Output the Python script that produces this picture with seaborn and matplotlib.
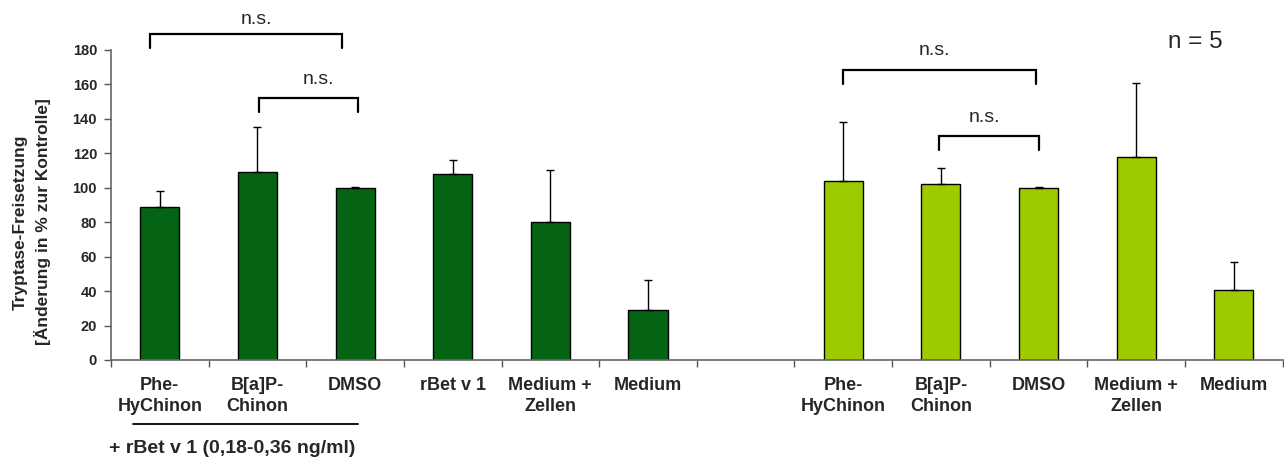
import numpy as np
import pandas as pd
import matplotlib
matplotlib.use("Agg")
import matplotlib.pyplot as plt
import matplotlib.transforms as mtransforms
import seaborn as sns

# Data: tryptase release, % change relative to control (mean and SD), n = 5
dark_labels = ["Phe-\nHyChinon", "B[a]P-\nChinon", "DMSO", "rBet v 1", "Medium +\nZellen", "Medium"]
dark_means = [89, 109, 100, 108, 80, 29]
dark_sd = [9, 26.5, 0.3, 8, 30.5, 17.5]

light_labels = ["Phe-\nHyChinon", "B[a]P-\nChinon", "DMSO", "Medium +\nZellen", "Medium"]
light_means = [104, 102, 100, 118, 40.5]
light_sd = [34, 9.7, 0.3, 42.6, 16.4]

yticks = list(range(0, 181, 20))
ylabel_lines = ["Tryptase-Freisetzung", "[Änderung in % zur Kontrolle]"]

dark_color = "#046414"
light_color = "#9ECB00"

sns.set_theme(style="white")
plt.rcParams["font.family"] = ["Liberation Sans", "DejaVu Sans"]

# Unique slot keys: dark group, one empty slot, light group
dark_keys = [f"a{i}" for i in range(len(dark_labels))]
light_keys = [f"b{i}" for i in range(len(light_labels))]
order = dark_keys + ["gap"] + light_keys
tick_text = dark_labels + [""] + light_labels

df = pd.DataFrame({
    "slot": dark_keys + light_keys,
    "value": dark_means + light_means,
    "sd": dark_sd + light_sd,
    "group": ["dark"] * len(dark_keys) + ["light"] * len(light_keys),
})

fig = plt.figure(figsize=(12.84, 4.58), dpi=100)
ax = fig.add_axes([0.0864, 0.214, 0.9126, 0.677])

sns.barplot(data=df, x="slot", y="value", hue="group", order=order,
            palette={"dark": dark_color, "light": light_color}, saturation=1,
            dodge=False, width=0.4, edgecolor="black", linewidth=1.0,
            errorbar=None, legend=False, ax=ax)

# Upward-only SD error bars
pos = {k: i for i, k in enumerate(order)}
xs = [pos[s] for s in df["slot"]]
ax.errorbar(xs, df["value"], yerr=[np.zeros(len(df)), df["sd"]],
            fmt="none", ecolor="black", elinewidth=1.0, capsize=3, capthick=1.0,
            zorder=3)

ax.set_xlim(-0.5, len(order) - 0.5)
ax.set_ylim(0, 180)
ax.set_yticks(yticks)
ax.set_yticklabels([str(t) for t in yticks], fontsize=10.5, fontweight="bold")
ax.set_xticks(range(len(order)))
ax.set_xticklabels(tick_text, fontsize=13, fontweight="bold", linespacing=1.3)
ax.set_xticks(np.arange(-0.5, len(order), 1.0), minor=True)
ax.tick_params(axis="x", which="major", bottom=True, length=0, pad=12)
ax.tick_params(axis="x", which="minor", bottom=True, length=5, width=1,
               color="#555555", direction="out")
ax.tick_params(axis="y", left=True, length=5, width=1, color="#555555",
               direction="out", pad=5)
ax.set_xlabel("")
ax.set_ylabel("")

# Two-line y-axis title
ax.text(-0.0776, 0.445, ylabel_lines[0], transform=ax.transAxes, rotation=90,
        ha="center", va="center", fontsize=12.5, fontweight="bold")
ax.text(-0.058, 0.445, ylabel_lines[1], transform=ax.transAxes, rotation=90,
        ha="center", va="center", fontsize=12.5, fontweight="bold")

for side in ["top", "right"]:
    ax.spines[side].set_visible(False)
for side in ["left", "bottom"]:
    ax.spines[side].set_color("#666666")
    ax.spines[side].set_linewidth(1.2)


def bracket(x0, x1, y_top, y_leg, label, text_x, text_y):
    ax.plot([x0, x0, x1, x1], [y_leg, y_top, y_top, y_leg], color="black",
            lw=1.6, clip_on=False, solid_joinstyle="miter")
    ax.text(text_x, text_y, label, ha="center", va="center",
            fontsize=14, clip_on=False)


bracket(-0.10, 1.87, 189.3, 181.3, "n.s.", 0.99, 197.4)
bracket(1.015, 2.03, 152.1, 143.8, "n.s.", 1.62, 163.0)
bracket(7.0, 8.97, 168.6, 160.3, "n.s.", 7.93, 179.4)
bracket(7.985, 9.005, 130.3, 121.9, "n.s.", 8.45, 140.9)

ax.text(10.61, 184.8, "n = 5", ha="center", va="center", fontsize=17.5, clip_on=False)

# Bracket line and caption under the rBet v 1 treated samples
trans = mtransforms.blended_transform_factory(ax.transData, ax.transAxes)
ax.plot([-0.275, 2.028], [-0.206, -0.206], color="black", lw=1.3,
        transform=trans, clip_on=False)
ax.text(0.744, -0.284, "+ rBet v 1 (0,18-0,36 ng/ml)", transform=trans,
        ha="center", va="center", fontsize=14, fontweight="bold", clip_on=False)

fig.savefig("out.png", dpi=100)
